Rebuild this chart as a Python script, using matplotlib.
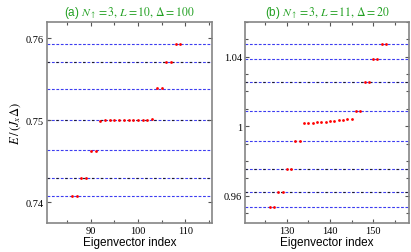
import numpy as np
import matplotlib
matplotlib.use("Agg")
import matplotlib.pyplot as plt
from matplotlib.ticker import MultipleLocator, FormatStrFormatter

plt.rcParams['mathtext.fontset'] = 'stix'

# panel (a): N=3, L=10, Delta=100
idx_a = [86, 87, 88, 89, 90, 91,
         92, 93, 94, 95, 96, 97, 98, 99, 100, 101, 102, 103,
         104, 105, 106, 107, 108, 109]
en_a = [0.74085, 0.74085, 0.74298, 0.74298, 0.74622, 0.74622,
        0.74998, 0.75000, 0.75002, 0.75003, 0.75004, 0.75005, 0.75006, 0.75007,
        0.75008, 0.75009, 0.75010, 0.75012,
        0.75390, 0.75390, 0.75712, 0.75712, 0.75935, 0.75935]
blue_a = [0.75935, 0.75387, 0.74634, 0.74085]
black_a = [0.75712, 0.75000, 0.74301]

# panel (b): N=3, L=11, Delta=20
idx_b = [126, 127, 128, 129, 130, 131, 132, 133,
         134, 135, 136, 137, 138, 139, 140, 141, 142, 143, 144, 145,
         146, 147, 148, 149, 150, 151, 152, 153]
en_b = [0.9535, 0.9535, 0.9622, 0.9622, 0.9754, 0.9754, 0.9915, 0.9915,
        1.0017, 1.0019, 1.0021, 1.0023, 1.0025, 1.0027, 1.0029, 1.0031,
        1.0034, 1.0036, 1.0039, 1.0042,
        1.0086, 1.0086, 1.0253, 1.0253, 1.0387, 1.0387, 1.0473, 1.0473]
blue_b = [1.0473, 1.0387, 1.0090, 0.9917, 0.9533]
black_b = [1.0253, 0.9754, 0.9620]

green = '#22a022'
spine_col = '#858585'

fig = plt.figure(figsize=(4.11, 2.53), dpi=100)
ax1 = fig.add_axes([0.1144, 0.1146, 0.4015, 0.7945])
ax2 = fig.add_axes([0.5961, 0.1146, 0.3990, 0.7945])


def draw_levels(ax, blue, black):
    for y in blue:
        ax.axhline(y, color='#3c3cf0', lw=0.8, dashes=(2.5, 1.5), zorder=1)
    for y in black:
        ax.axhline(y, color='#3c3cf0', lw=0.8, dashes=(2.5, 1.5), zorder=1)
        ax.axhline(y, color='#202020', lw=0.8, dashes=(2.0, 6.0), zorder=1.5)


def style(ax):
    for s in ax.spines.values():
        s.set_color(spine_col)
        s.set_linewidth(1.2)
    ax.tick_params(which='both', direction='in', top=True, right=True,
                   color='#555555', width=0.8, labelsize=7.5, pad=2)
    ax.tick_params(which='major', length=3)
    ax.tick_params(which='minor', length=2.5)
    for lab in ax.get_xticklabels() + ax.get_yticklabels():
        lab.set_fontfamily('Liberation Serif')
    ax.set_xlabel('Eigenvector index', fontfamily='Liberation Sans', fontsize=8.5, labelpad=1)


draw_levels(ax1, blue_a, black_a)
ax1.plot(idx_a, en_a, 'o', color='red', ms=2.0, mec='none', zorder=3)
ax1.set_xlim(80.7, 115.7)
ax1.set_ylim(0.7375, 0.762)
ax1.xaxis.set_major_locator(MultipleLocator(10))
ax1.xaxis.set_minor_locator(MultipleLocator(5))
ax1.yaxis.set_major_locator(MultipleLocator(0.01))
ax1.yaxis.set_major_formatter(FormatStrFormatter('%.2f'))
style(ax1)
ax1.set_ylabel(r'$E\,/\,(J_x\Delta)$', fontsize=9, labelpad=2)
ax1.set_title(r'(a) $N_{\uparrow}\mathrm{=3,}\,L\mathrm{=10,}\,\Delta\mathrm{=100}$',
              fontfamily='Liberation Sans', fontsize=8.5, color=green, pad=5)

draw_levels(ax2, blue_b, black_b)
ax2.plot(idx_b, en_b, 'o', color='red', ms=2.0, mec='none', zorder=3)
ax2.set_xlim(120.3, 158.3)
ax2.set_ylim(0.9443, 1.06)
ax2.xaxis.set_major_locator(MultipleLocator(10))
ax2.xaxis.set_minor_locator(MultipleLocator(5))
ax2.yaxis.set_major_locator(MultipleLocator(0.04))
ax2.yaxis.set_minor_locator(MultipleLocator(0.01))
ax2.set_yticks([0.96, 1.0, 1.04])
ax2.set_yticklabels(['0.96', '1', '1.04'])
style(ax2)
ax2.set_title(r'(b) $N_{\uparrow}\mathrm{=3,}\,L\mathrm{=11,}\,\Delta\mathrm{=20}$',
              fontfamily='Liberation Sans', fontsize=8.5, color=green, pad=5)

fig.savefig('out.png', dpi=100)
